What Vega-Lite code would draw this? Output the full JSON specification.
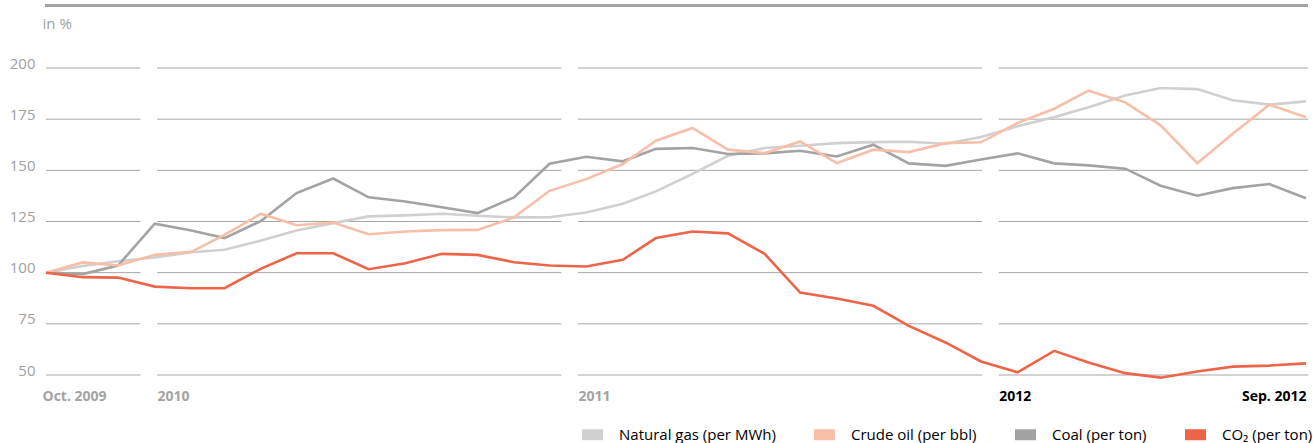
{
  "$schema": "https://vega.github.io/schema/vega-lite/v6.json",
  "width": 1260,
  "height": 307,
  "autosize": {"type": "none"},
  "padding": {"left": 46, "top": 68, "right": 7, "bottom": 68},
  "config": {
    "view": {"stroke": null},
    "font": "Open Sans",
    "background": "#ffffff"
  },
  "layer": [
    {
      "data": {
        "values": [
          {"level": 50, "start": "2009-10-01", "end": "2009-12-20"},
          {"level": 75, "start": "2009-10-01", "end": "2009-12-20"},
          {"level": 100, "start": "2009-10-01", "end": "2009-12-20"},
          {"level": 125, "start": "2009-10-01", "end": "2009-12-20"},
          {"level": 150, "start": "2009-10-01", "end": "2009-12-20"},
          {"level": 175, "start": "2009-10-01", "end": "2009-12-20"},
          {"level": 200, "start": "2009-10-01", "end": "2009-12-20"},
          {"level": 50, "start": "2010-01-03", "end": "2010-12-11"},
          {"level": 75, "start": "2010-01-03", "end": "2010-12-11"},
          {"level": 100, "start": "2010-01-03", "end": "2010-12-11"},
          {"level": 125, "start": "2010-01-03", "end": "2010-12-11"},
          {"level": 150, "start": "2010-01-03", "end": "2010-12-11"},
          {"level": 175, "start": "2010-01-03", "end": "2010-12-11"},
          {"level": 200, "start": "2010-01-03", "end": "2010-12-11"},
          {"level": 50, "start": "2010-12-25", "end": "2011-12-02"},
          {"level": 75, "start": "2010-12-25", "end": "2011-12-02"},
          {"level": 100, "start": "2010-12-25", "end": "2011-12-02"},
          {"level": 125, "start": "2010-12-25", "end": "2011-12-02"},
          {"level": 150, "start": "2010-12-25", "end": "2011-12-02"},
          {"level": 175, "start": "2010-12-25", "end": "2011-12-02"},
          {"level": 200, "start": "2010-12-25", "end": "2011-12-02"},
          {"level": 50, "start": "2011-12-16", "end": "2012-09-03"},
          {"level": 75, "start": "2011-12-16", "end": "2012-09-03"},
          {"level": 100, "start": "2011-12-16", "end": "2012-09-03"},
          {"level": 125, "start": "2011-12-16", "end": "2012-09-03"},
          {"level": 150, "start": "2011-12-16", "end": "2012-09-03"},
          {"level": 175, "start": "2011-12-16", "end": "2012-09-03"},
          {"level": 200, "start": "2011-12-16", "end": "2012-09-03"}
        ]
      },
      "mark": {"type": "rule", "stroke": "#a6a6a6", "strokeWidth": 1},
      "encoding": {
        "x": {
          "field": "start",
          "type": "temporal",
          "scale": {
            "type": "utc",
            "domain": [
              {"year": 2009, "month": 10, "date": 1, "utc": true},
              {"year": 2012, "month": 9, "date": 1, "utc": true}
            ]
          },
          "axis": {
            "orient": "top",
            "offset": 63,
            "labels": false,
            "ticks": false,
            "grid": false,
            "title": null,
            "domain": true,
            "domainColor": "#a3a3a3",
            "domainWidth": 3,
            "domainCap": "square"
          }
        },
        "x2": {"field": "end"},
        "y": {
          "field": "level",
          "type": "quantitative",
          "scale": {"domain": [50, 200], "nice": false, "zero": false},
          "axis": {
            "orient": "left",
            "values": [50, 75, 100, 125, 150, 175, 200],
            "grid": false,
            "domain": false,
            "ticks": false,
            "tickSize": 0,
            "labelPadding": 11,
            "labelBaseline": "alphabetic",
            "labelFont": "Open Sans",
            "labelFontSize": 15,
            "labelColor": "#a0a0a0",
            "title": "in %",
            "titleAngle": 0,
            "titleAlign": "left",
            "titleBaseline": "alphabetic",
            "titleX": -4,
            "titleY": -40,
            "titleFont": "Open Sans",
            "titleFontSize": 15,
            "titleFontWeight": "normal",
            "titleColor": "#a0a0a0"
          }
        }
      }
    },
    {
      "data": {
        "values": [
          {"date": "2009-10-01", "series": "Natural gas (per MWh)", "value": 100},
          {"date": "2009-11-01", "series": "Natural gas (per MWh)", "value": 103.3},
          {"date": "2009-12-01", "series": "Natural gas (per MWh)", "value": 105.6},
          {"date": "2010-01-01", "series": "Natural gas (per MWh)", "value": 107.4},
          {"date": "2010-02-01", "series": "Natural gas (per MWh)", "value": 110.0},
          {"date": "2010-03-01", "series": "Natural gas (per MWh)", "value": 111.2},
          {"date": "2010-04-01", "series": "Natural gas (per MWh)", "value": 115.7},
          {"date": "2010-05-01", "series": "Natural gas (per MWh)", "value": 120.6},
          {"date": "2010-06-01", "series": "Natural gas (per MWh)", "value": 124.2},
          {"date": "2010-07-01", "series": "Natural gas (per MWh)", "value": 127.5},
          {"date": "2010-08-01", "series": "Natural gas (per MWh)", "value": 128.0},
          {"date": "2010-09-01", "series": "Natural gas (per MWh)", "value": 128.8},
          {"date": "2010-10-01", "series": "Natural gas (per MWh)", "value": 127.8},
          {"date": "2010-11-01", "series": "Natural gas (per MWh)", "value": 127.0},
          {"date": "2010-12-01", "series": "Natural gas (per MWh)", "value": 127.1},
          {"date": "2011-01-01", "series": "Natural gas (per MWh)", "value": 129.4},
          {"date": "2011-02-01", "series": "Natural gas (per MWh)", "value": 133.7},
          {"date": "2011-03-01", "series": "Natural gas (per MWh)", "value": 139.7},
          {"date": "2011-04-01", "series": "Natural gas (per MWh)", "value": 148.3},
          {"date": "2011-05-01", "series": "Natural gas (per MWh)", "value": 157.1},
          {"date": "2011-06-01", "series": "Natural gas (per MWh)", "value": 160.9},
          {"date": "2011-07-01", "series": "Natural gas (per MWh)", "value": 162.0},
          {"date": "2011-08-01", "series": "Natural gas (per MWh)", "value": 163.3},
          {"date": "2011-09-01", "series": "Natural gas (per MWh)", "value": 163.8},
          {"date": "2011-10-01", "series": "Natural gas (per MWh)", "value": 164.0},
          {"date": "2011-11-01", "series": "Natural gas (per MWh)", "value": 163.0},
          {"date": "2011-12-01", "series": "Natural gas (per MWh)", "value": 166.3},
          {"date": "2012-01-01", "series": "Natural gas (per MWh)", "value": 171.5},
          {"date": "2012-02-01", "series": "Natural gas (per MWh)", "value": 176.0},
          {"date": "2012-03-01", "series": "Natural gas (per MWh)", "value": 180.8},
          {"date": "2012-04-01", "series": "Natural gas (per MWh)", "value": 186.6},
          {"date": "2012-05-01", "series": "Natural gas (per MWh)", "value": 190.2},
          {"date": "2012-06-01", "series": "Natural gas (per MWh)", "value": 189.7},
          {"date": "2012-07-01", "series": "Natural gas (per MWh)", "value": 184.2},
          {"date": "2012-08-01", "series": "Natural gas (per MWh)", "value": 182.1},
          {"date": "2012-09-01", "series": "Natural gas (per MWh)", "value": 183.7},

          {"date": "2009-10-01", "series": "Coal (per ton)", "value": 100},
          {"date": "2009-11-01", "series": "Coal (per ton)", "value": 99.3},
          {"date": "2009-12-01", "series": "Coal (per ton)", "value": 103.5},
          {"date": "2010-01-01", "series": "Coal (per ton)", "value": 123.9},
          {"date": "2010-02-01", "series": "Coal (per ton)", "value": 120.6},
          {"date": "2010-03-01", "series": "Coal (per ton)", "value": 116.9},
          {"date": "2010-04-01", "series": "Coal (per ton)", "value": 125.3},
          {"date": "2010-05-01", "series": "Coal (per ton)", "value": 138.9},
          {"date": "2010-06-01", "series": "Coal (per ton)", "value": 146.0},
          {"date": "2010-07-01", "series": "Coal (per ton)", "value": 136.8},
          {"date": "2010-08-01", "series": "Coal (per ton)", "value": 134.8},
          {"date": "2010-09-01", "series": "Coal (per ton)", "value": 132.0},
          {"date": "2010-10-01", "series": "Coal (per ton)", "value": 129.1},
          {"date": "2010-11-01", "series": "Coal (per ton)", "value": 136.8},
          {"date": "2010-12-01", "series": "Coal (per ton)", "value": 153.2},
          {"date": "2011-01-01", "series": "Coal (per ton)", "value": 156.6},
          {"date": "2011-02-01", "series": "Coal (per ton)", "value": 154.4},
          {"date": "2011-03-01", "series": "Coal (per ton)", "value": 160.5},
          {"date": "2011-04-01", "series": "Coal (per ton)", "value": 160.9},
          {"date": "2011-05-01", "series": "Coal (per ton)", "value": 158.0},
          {"date": "2011-06-01", "series": "Coal (per ton)", "value": 158.3},
          {"date": "2011-07-01", "series": "Coal (per ton)", "value": 159.6},
          {"date": "2011-08-01", "series": "Coal (per ton)", "value": 156.8},
          {"date": "2011-09-01", "series": "Coal (per ton)", "value": 162.5},
          {"date": "2011-10-01", "series": "Coal (per ton)", "value": 153.4},
          {"date": "2011-11-01", "series": "Coal (per ton)", "value": 152.2},
          {"date": "2011-12-01", "series": "Coal (per ton)", "value": 155.3},
          {"date": "2012-01-01", "series": "Coal (per ton)", "value": 158.3},
          {"date": "2012-02-01", "series": "Coal (per ton)", "value": 153.4},
          {"date": "2012-03-01", "series": "Coal (per ton)", "value": 152.4},
          {"date": "2012-04-01", "series": "Coal (per ton)", "value": 150.8},
          {"date": "2012-05-01", "series": "Coal (per ton)", "value": 142.5},
          {"date": "2012-06-01", "series": "Coal (per ton)", "value": 137.6},
          {"date": "2012-07-01", "series": "Coal (per ton)", "value": 141.3},
          {"date": "2012-08-01", "series": "Coal (per ton)", "value": 143.3},
          {"date": "2012-09-01", "series": "Coal (per ton)", "value": 136.4},

          {"date": "2009-10-01", "series": "Crude oil (per bbl)", "value": 100},
          {"date": "2009-11-01", "series": "Crude oil (per bbl)", "value": 105.0},
          {"date": "2009-12-01", "series": "Crude oil (per bbl)", "value": 103.5},
          {"date": "2010-01-01", "series": "Crude oil (per bbl)", "value": 108.7},
          {"date": "2010-02-01", "series": "Crude oil (per bbl)", "value": 110.2},
          {"date": "2010-03-01", "series": "Crude oil (per bbl)", "value": 118.5},
          {"date": "2010-04-01", "series": "Crude oil (per bbl)", "value": 128.8},
          {"date": "2010-05-01", "series": "Crude oil (per bbl)", "value": 123.2},
          {"date": "2010-06-01", "series": "Crude oil (per bbl)", "value": 124.5},
          {"date": "2010-07-01", "series": "Crude oil (per bbl)", "value": 118.8},
          {"date": "2010-08-01", "series": "Crude oil (per bbl)", "value": 120.1},
          {"date": "2010-09-01", "series": "Crude oil (per bbl)", "value": 120.8},
          {"date": "2010-10-01", "series": "Crude oil (per bbl)", "value": 120.9},
          {"date": "2010-11-01", "series": "Crude oil (per bbl)", "value": 127.0},
          {"date": "2010-12-01", "series": "Crude oil (per bbl)", "value": 140.0},
          {"date": "2011-01-01", "series": "Crude oil (per bbl)", "value": 145.7},
          {"date": "2011-02-01", "series": "Crude oil (per bbl)", "value": 153.1},
          {"date": "2011-03-01", "series": "Crude oil (per bbl)", "value": 164.5},
          {"date": "2011-04-01", "series": "Crude oil (per bbl)", "value": 170.7},
          {"date": "2011-05-01", "series": "Crude oil (per bbl)", "value": 160.1},
          {"date": "2011-06-01", "series": "Crude oil (per bbl)", "value": 158.4},
          {"date": "2011-07-01", "series": "Crude oil (per bbl)", "value": 164.1},
          {"date": "2011-08-01", "series": "Crude oil (per bbl)", "value": 153.5},
          {"date": "2011-09-01", "series": "Crude oil (per bbl)", "value": 160.1},
          {"date": "2011-10-01", "series": "Crude oil (per bbl)", "value": 158.9},
          {"date": "2011-11-01", "series": "Crude oil (per bbl)", "value": 163.3},
          {"date": "2011-12-01", "series": "Crude oil (per bbl)", "value": 163.7},
          {"date": "2012-01-01", "series": "Crude oil (per bbl)", "value": 173.1},
          {"date": "2012-02-01", "series": "Crude oil (per bbl)", "value": 180.1},
          {"date": "2012-03-01", "series": "Crude oil (per bbl)", "value": 188.9},
          {"date": "2012-04-01", "series": "Crude oil (per bbl)", "value": 183.2},
          {"date": "2012-05-01", "series": "Crude oil (per bbl)", "value": 172.0},
          {"date": "2012-06-01", "series": "Crude oil (per bbl)", "value": 153.5},
          {"date": "2012-07-01", "series": "Crude oil (per bbl)", "value": 167.9},
          {"date": "2012-08-01", "series": "Crude oil (per bbl)", "value": 182.1},
          {"date": "2012-09-01", "series": "Crude oil (per bbl)", "value": 175.9},

          {"date": "2009-10-01", "series": "CO₂ (per ton)", "value": 100},
          {"date": "2009-11-01", "series": "CO₂ (per ton)", "value": 97.8},
          {"date": "2009-12-01", "series": "CO₂ (per ton)", "value": 97.6},
          {"date": "2010-01-01", "series": "CO₂ (per ton)", "value": 93.2},
          {"date": "2010-02-01", "series": "CO₂ (per ton)", "value": 92.4},
          {"date": "2010-03-01", "series": "CO₂ (per ton)", "value": 92.4},
          {"date": "2010-04-01", "series": "CO₂ (per ton)", "value": 102.0},
          {"date": "2010-05-01", "series": "CO₂ (per ton)", "value": 109.5},
          {"date": "2010-06-01", "series": "CO₂ (per ton)", "value": 109.5},
          {"date": "2010-07-01", "series": "CO₂ (per ton)", "value": 101.7},
          {"date": "2010-08-01", "series": "CO₂ (per ton)", "value": 104.6},
          {"date": "2010-09-01", "series": "CO₂ (per ton)", "value": 109.2},
          {"date": "2010-10-01", "series": "CO₂ (per ton)", "value": 108.7},
          {"date": "2010-11-01", "series": "CO₂ (per ton)", "value": 105.1},
          {"date": "2010-12-01", "series": "CO₂ (per ton)", "value": 103.5},
          {"date": "2011-01-01", "series": "CO₂ (per ton)", "value": 103.0},
          {"date": "2011-02-01", "series": "CO₂ (per ton)", "value": 106.3},
          {"date": "2011-03-01", "series": "CO₂ (per ton)", "value": 116.9},
          {"date": "2011-04-01", "series": "CO₂ (per ton)", "value": 120.1},
          {"date": "2011-05-01", "series": "CO₂ (per ton)", "value": 119.2},
          {"date": "2011-06-01", "series": "CO₂ (per ton)", "value": 109.2},
          {"date": "2011-07-01", "series": "CO₂ (per ton)", "value": 90.3},
          {"date": "2011-08-01", "series": "CO₂ (per ton)", "value": 87.4},
          {"date": "2011-09-01", "series": "CO₂ (per ton)", "value": 83.8},
          {"date": "2011-10-01", "series": "CO₂ (per ton)", "value": 74.0},
          {"date": "2011-11-01", "series": "CO₂ (per ton)", "value": 65.9},
          {"date": "2011-12-01", "series": "CO₂ (per ton)", "value": 56.6},
          {"date": "2012-01-01", "series": "CO₂ (per ton)", "value": 51.3},
          {"date": "2012-02-01", "series": "CO₂ (per ton)", "value": 61.8},
          {"date": "2012-03-01", "series": "CO₂ (per ton)", "value": 56.1},
          {"date": "2012-04-01", "series": "CO₂ (per ton)", "value": 50.9},
          {"date": "2012-05-01", "series": "CO₂ (per ton)", "value": 48.7},
          {"date": "2012-06-01", "series": "CO₂ (per ton)", "value": 51.7},
          {"date": "2012-07-01", "series": "CO₂ (per ton)", "value": 54.1},
          {"date": "2012-08-01", "series": "CO₂ (per ton)", "value": 54.6},
          {"date": "2012-09-01", "series": "CO₂ (per ton)", "value": 55.7}
        ]
      },
      "mark": {"type": "line", "strokeWidth": 2.6, "strokeJoin": "miter", "interpolate": "linear"},
      "encoding": {
        "x": {
          "field": "date",
          "type": "temporal",
          "scale": {
            "type": "utc",
            "domain": [
              {"year": 2009, "month": 10, "date": 1, "utc": true},
              {"year": 2012, "month": 9, "date": 1, "utc": true}
            ]
          },
          "axis": {
            "orient": "bottom",
            "title": null,
            "grid": false,
            "domain": false,
            "ticks": false,
            "tickSize": 0,
            "values": [
              {"year": 2009, "month": 10, "date": 1, "utc": true},
              {"year": 2010, "month": 1, "date": 3, "utc": true},
              {"year": 2010, "month": 12, "date": 25, "utc": true},
              {"year": 2011, "month": 12, "date": 16, "utc": true},
              {"year": 2012, "month": 9, "date": 1, "utc": true}
            ],
            "labelExpr": "datum.value < utc(2009,10,1) ? 'Oct. 2009' : (datum.value > utc(2012,7,1) ? 'Sep. 2012' : utcFormat(datum.value + 1728000000, '%Y'))",
            "labelPadding": 25,
            "labelBaseline": "alphabetic",
            "labelFont": "Open Sans",
            "labelFontSize": 14,
            "labelFontWeight": "bold",
            "labelFlush": false,
            "labelOverlap": false,
            "labelBound": false,
            "labelColor": {"condition": {"test": "datum.value > utc(2011,10,1)", "value": "#000000"}, "value": "#a3a3a3"},
            "labelAlign": {"condition": {"test": "datum.value > utc(2012,7,1)", "value": "right"}, "value": "left"},
            "labelOffset": {"condition": {"test": "datum.value < utc(2009,10,1)", "value": -4}, "value": 0}
          }
        },
        "y": {
          "field": "value",
          "type": "quantitative",
          "scale": {"domain": [50, 200], "nice": false, "zero": false},
          "axis": null
        },
        "color": {
          "field": "series",
          "type": "nominal",
          "scale": {
            "domain": ["Natural gas (per MWh)", "Crude oil (per bbl)", "Coal (per ton)", "CO₂ (per ton)"],
            "range": ["#d0d0d0", "#f7bea9", "#a3a3a3", "#ec6548"]
          },
          "legend": {
            "orient": "none",
            "legendX": 536,
            "legendY": 356,
            "direction": "horizontal",
            "title": null,
            "padding": 0,
            "labelFont": "Open Sans",
            "labelFontSize": 15,
            "labelColor": "#000000",
            "labelLimit": 400,
            "labelOffset": 16,
            "columnPadding": 38,
            "symbolType": "M-1,-0.5238H1V0.5238H-1Z",
            "symbolSize": 441,
            "symbolStrokeWidth": 0,
            "symbolOffset": 0,
            "encode": {
              "symbols": {
                "update": {
                  "fill": {"scale": "color", "field": "value"},
                  "fillOpacity": {"value": 1},
                  "strokeWidth": {"value": 0}
                }
              }
            }
          }
        }
      }
    }
  ],
  "resolve": {"axis": {"x": "independent", "y": "independent"}}
}
